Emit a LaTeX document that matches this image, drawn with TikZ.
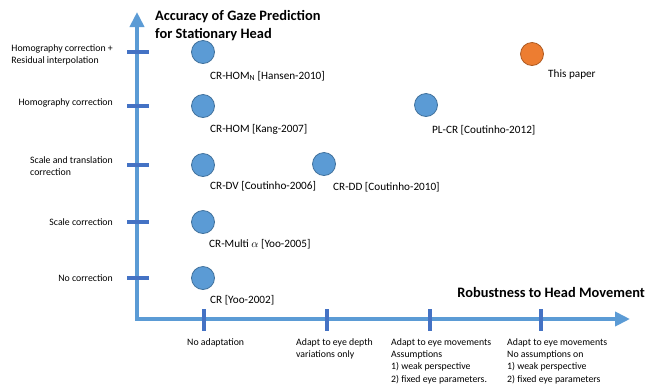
\documentclass[tikz,border=0pt]{standalone}
\usepackage{fontspec}
\setmainfont{Carlito}
\usetikzlibrary{arrows.meta,positioning}
\definecolor{axisblue}{HTML}{5B9BD5}
\definecolor{tickblue}{HTML}{4472C4}
\definecolor{dotrim}{HTML}{41719C}
\definecolor{ourfill}{HTML}{ED7D31}
\definecolor{ourrim}{HTML}{AE5A21}

\begin{document}
\begin{tikzpicture}[x=1pt, y=-1pt,
  axis/.style={line width=4.5pt, draw=axisblue, line join=miter,
    {Triangle[width=14pt,length=15pt]}-{Triangle[width=14pt,length=15pt]}},
  tick/.style={line width=4.5pt, draw=tickblue},
  method/.style={circle, minimum size=23pt, inner sep=0pt, fill=axisblue,
    draw=dotrim, line width=0.8pt},
  ours/.style={method, fill=ourfill, draw=ourrim},
  cite/.style={font=\fontsize{11.2}{13}\selectfont, inner sep=0pt, anchor=west},
  level/.style={font=\fontsize{9.8}{12.2}\selectfont, inner sep=0pt, anchor=east, align=left},
  adapt/.style={font=\fontsize{9.8}{12.4}\selectfont, inner sep=0pt, anchor=north west, align=left},
  heading/.style={font=\fontsize{14.4}{18}\selectfont\bfseries, inner sep=0pt, align=left}]

\useasboundingbox (0,0) rectangle (647,384);

%% Axes
\coordinate (origin) at (137,319);
\coordinate (ytip) at (137,12);
\coordinate (xtip) at (630,319);
\draw[axis] (ytip) -- (origin) -- (xtip);

\foreach \y in {52,106,165,222,278}
  \draw[tick] (127,\y) -- (149,\y);
\foreach \x in {204,327,430,541}
  \draw[tick] (\x,309) -- (\x,331);

%% Axis titles
\node[heading, anchor=north west] (ytitle) at (155,10)
  {Accuracy of Gaze Prediction\\for Stationary Head};
\node[heading, anchor=east] (xtitle) at (645,292) {Robustness to Head Movement};

%% Levels of correction
\node[level] (lvhomres) at (113,55) {Homography correction +\\Residual interpolation};
\node[level] (lvhom) at (113,103) {Homography correction};
\node[level] (lvscaletr) at (113,166) {Scale and translation\\correction};
\node[level] (lvscale) at (113,222) {Scale correction};
\node[level] (lvnone) at (113,278) {No correction};

%% Levels of head movement adaptation
\node[adapt] (adnone) at (187,338) {No adaptation};
\node[adapt] (addepth) at (296,338) {Adapt to eye depth\\variations only};
\node[adapt] (adweak) at (391,338)
  {Adapt to eye movements\\Assumptions\\1) weak perspective\\2) fixed eye parameters.};
\node[adapt] (adfree) at (507,338)
  {Adapt to eye movements\\No assumptions on\\1) weak perspective\\2) fixed eye parameters};

%% Methods
\node[method] (hansen) at (203,52) {};
\node[cite] (hansenlbl) at (210,76) {CR-HOM\textsubscript{N} [Hansen-2010]};
\node[method] (kang) at (203,106) {};
\node[cite] (kanglbl) at (210,129) {CR-HOM [Kang-2007]};
\node[method] (coutdv) at (203,165) {};
\node[cite] (coutdvlbl) at (210,186) {CR-DV [Coutinho-2006]};
\node[method] (yoomulti) at (203,222) {};
\node[cite] (yoomultilbl) at (209,244) {CR-Multi $\alpha$ [Yoo-2005]};
\node[method] (yoo) at (203,278) {};
\node[cite] (yoolbl) at (210,300) {CR [Yoo-2002]};
\node[method] (coutdd) at (324,164) {};
\node[cite] (coutddlbl) at (333,187) {CR-DD [Coutinho-2010]};
\node[method] (plcr) at (426,105) {};
\node[cite] (plcrlbl) at (432,130) {PL-CR [Coutinho-2012]};
\node[ours] (paper) at (532,54) {};
\node[cite] (paperlbl) at (548,75) {This paper};

\end{tikzpicture}
\end{document}
